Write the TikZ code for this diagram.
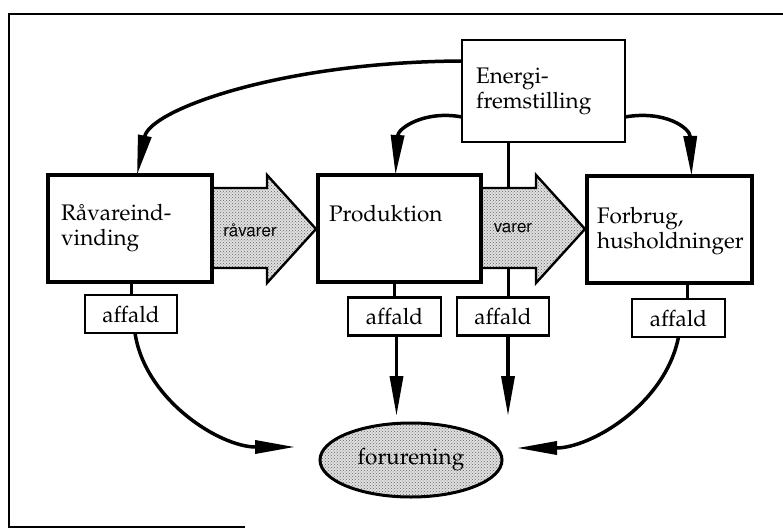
\documentclass[tikz,border=0pt]{standalone}
\usepackage[T1]{fontenc}
\renewcommand\rmdefault{ppl}
\usetikzlibrary{arrows.meta,shapes.geometric,patterns}
\begin{document}
\begin{tikzpicture}[x=1pt,y=-1pt,
  every node/.style={inner sep=0pt, outer sep=0pt},
  txt/.style={font=\fontsize{22.5}{25}\selectfont},
  bigbox/.style={draw, line width=3.6pt, minimum width=164pt, minimum height=107pt},
  wastebox/.style={draw, line width=2.4pt, minimum width=92pt, minimum height=38pt, txt},
  lbl/.style={txt, align=left, anchor=base west},
  flowlbl/.style={font=\fontfamily{phv}\fontsize{17}{19}\selectfont},
  dotted fill/.style={fill=black!12, pattern=crosshatch dots, pattern color=black!55},
  blockarrow/.style={draw, line width=2.4pt, line join=miter},
  feed/.style={line width=3.5pt, -{Triangle[length=40pt,width=13pt]}},
  link/.style={line width=3pt}]
\useasboundingbox (0,0) rectangle (783,529);

% open outer frame
\draw[line width=1.8pt] (245,527) -- (9,527) -- (9,14) -- (790,14);

% boxes
\node[bigbox] (R) at (130,228.5) {};
\node[bigbox, minimum width=163pt] (P) at (399.5,228.5) {};
\node[bigbox, minimum width=165pt] (F) at (669.5,229.5) {};
\node[draw, line width=2.6pt, minimum width=163pt, minimum height=102pt] (E) at (543.5,91) {};

\node[wastebox] (A1) at (131,314) {affald};
\node[wastebox, minimum width=93pt] (A2) at (394.5,316.5) {affald};
\node[wastebox] (A3) at (503,316.5) {affald};
\node[wastebox, minimum width=93pt] (A4) at (678.5,318) {affald};

\node[ellipse, minimum width=182pt, minimum height=74pt] (O) at (411,460) {};
\fill[black!12] (O.center) ellipse [x radius=91pt, y radius=37pt];
\fill[pattern=crosshatch dots, pattern color=black!60] (O.center) ellipse [x radius=91pt, y radius=37pt];
\draw[line width=3pt] (O.center) ellipse [x radius=91pt, y radius=37pt];
\node[txt] (Ot) at (O.center) {forurening};

% attachment points below the middle waste boxes
\coordinate (A2s) at ([xshift=2pt]A2.south);
\coordinate (A3s) at ([xshift=5pt]A3.south);
\coordinate (A3n) at ([xshift=5pt]A3.north);
\coordinate (Otop) at ([yshift=7pt]O.north);

% energy line down to the middle waste box (passes behind the goods arrow)
\draw[link] (A3n) -- (A3n |- E.south);

% block arrows for the material flows
\foreach \x/\t in {212/316, 481/585}{
  \path[fill=black!12] (\x,188) -- (\x+55,188) -- (\x+55,175) -- (\t,229) -- (\x+55,283) -- (\x+55,268) -- (\x,268) -- cycle;
  \path[pattern=crosshatch dots, pattern color=black!60] (\x,188) -- (\x+55,188) -- (\x+55,175) -- (\t,229) -- (\x+55,283) -- (\x+55,268) -- (\x,268) -- cycle;
  \draw[blockarrow] (\x,188) -- (\x+55,188) -- (\x+55,175) -- (\t,229) -- (\x+55,283) -- (\x+55,268) -- (\x,268);
}
\node[flowlbl] (rv) at (250,230) {råvarer};
\node[flowlbl] (va) at (513,228) {varer};

% redraw box borders on top of the arrow edges
\draw[line width=3.6pt] (R.north west) rectangle (R.south east);
\draw[line width=3.6pt] (P.north west) rectangle (P.south east);
\draw[line width=3.6pt] (F.north west) rectangle (F.south east);

% box texts
\node[lbl] (Rt) at (61,245) {Råvareind-\\vinding};
\node[lbl] (Pt) at (329,222) {Produktion};
\node[lbl] (Ft) at (597,248) {Forbrug,\\husholdninger};
\node[lbl] (Et) at (476,109) {Energi-\\fremstilling};

% waste links
\draw[link] (R.south -| A1.north) -- (A1.north);
\draw[link] (P.south -| A2.north) -- (A2.north);
\draw[link] ([xshift=9pt]F.south -| A4.north) -- ([xshift=9pt]A4.north);

% energy supply
\draw[feed] ([yshift=-21pt]E.north west) .. controls (280,62) and (150,110) .. ([xshift=7pt]R.north);
\draw[feed] ([yshift=-77pt]E.north west) .. controls (425,110) and (398,128) .. ([xshift=-4pt]P.north);
\draw[feed] ([yshift=-77pt]E.north east) .. controls (665,110) and (690,128) .. ([xshift=22pt]F.north);

% waste to pollution
\draw[feed] ([xshift=4pt]A1.south) .. controls (145,400) and (220,447) .. ([shift={(-25pt,13pt)}]O.west);
\draw[feed] (A4.south) .. controls (665,405) and (590,448) .. ([shift={(15pt,12pt)}]O.east);
\draw[feed] (A2s) -- (Otop -| A2s);
\draw[feed] (A3s) -- (Otop -| A3s);
\end{tikzpicture}
\end{document}
